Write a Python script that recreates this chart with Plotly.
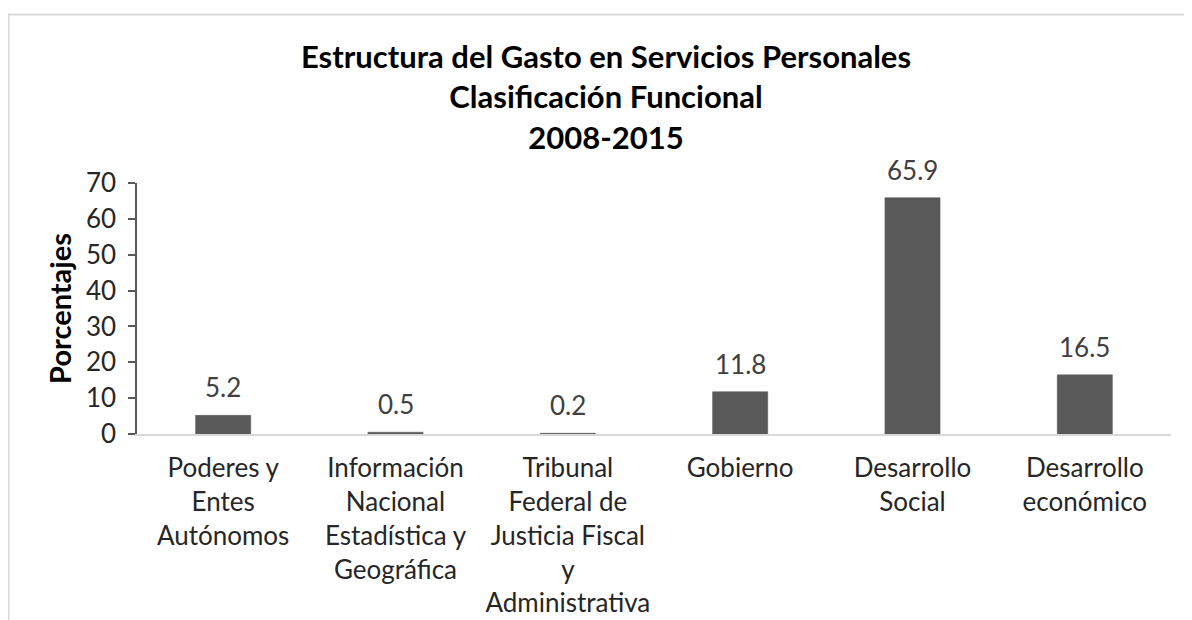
import plotly.graph_objects as go

categories = [
    "Poderes y<br>Entes<br>Autónomos",
    "Información<br>Nacional<br>Estadística y<br>Geográfica",
    "Tribunal<br>Federal de<br>Justicia Fiscal<br>y<br>Administrativa",
    "Gobierno",
    "Desarrollo<br>Social",
    "Desarrollo<br>económico",
]
values = [5.2, 0.5, 0.2, 11.8, 65.9, 16.5]
labels = ["5.2", "0.5", "0.2", "11.8", "65.9", "16.5"]
y_ticks = [0, 10, 20, 30, 40, 50, 60, 70]
title_lines = ["Estructura del Gasto en Servicios Personales",
               "Clasificación Funcional", "2008-2015"]

# page offset (body margin) of 8px
OFF = 8
W, H = 1192 - OFF, 620 - OFF
L, R, T, B = 137 - OFF, 1171 - OFF, 183 - OFF, 434 - OFF

fig = go.Figure()
fig.add_trace(go.Bar(
    x=categories, y=values,
    marker=dict(color="#595959", line=dict(color="#595959", width=0.5)),
    width=0.32, hoverinfo="skip",
))

for c, v, t in zip(categories, values, labels):
    fig.add_annotation(
        x=c, y=v, text=t, showarrow=False, xref="x", yref="y",
        yanchor="bottom", yshift=10,
        font=dict(family="Lato", size=26, color="#404040"),
    )

px = lambda x: (x - OFF - L) / (R - L)
py = lambda y: (B - (y - OFF)) / (B - T)

# outer frame
fig.add_shape(type="rect", xref="paper", yref="paper",
              x0=px(8.5), x1=px(1230), y0=py(660), y1=py(14.5),
              line=dict(color="#d9d9d9", width=2), fillcolor="rgba(0,0,0,0)",
              layer="below")

fig.update_layout(
    width=W, height=H,
    margin=dict(l=L, r=W - R, t=T, b=H - B, pad=0),
    paper_bgcolor="white", plot_bgcolor="white",
    showlegend=False,
    font=dict(family="Lato", color="#404040"),
    bargap=0.68,
    title=dict(
        text="<b>" + "<br>".join(title_lines) + "</b>",
        x=(606 - OFF) / W, xanchor="center",
        y=1 - (68 - OFF) / H, yanchor="middle",
        font=dict(family="Lato", size=31, color="#000000"),
    ),
)
fig.update_xaxes(
    showline=True, linecolor="#d9d9d9", linewidth=2,
    showgrid=False, ticks="", zeroline=False,
    tickfont=dict(family="Lato", size=26, color="#262626"),
    ticklabelstandoff=10, automargin=False,
)
fig.update_yaxes(
    range=[0, 70], tickvals=y_ticks,
    showline=True, linecolor="#595959", linewidth=1.5,
    ticks="outside", ticklen=7, tickcolor="#595959", tickwidth=1.5,
    showgrid=False, zeroline=False,
    tickfont=dict(family="Lato", size=26, color="#262626"),
    ticklabelstandoff=7, automargin=False,
    title=dict(text="<b>Porcentajes</b>", font=dict(family="Lato", size=29, color="#000000"), standoff=6),
)

fig.write_html("out.html")
